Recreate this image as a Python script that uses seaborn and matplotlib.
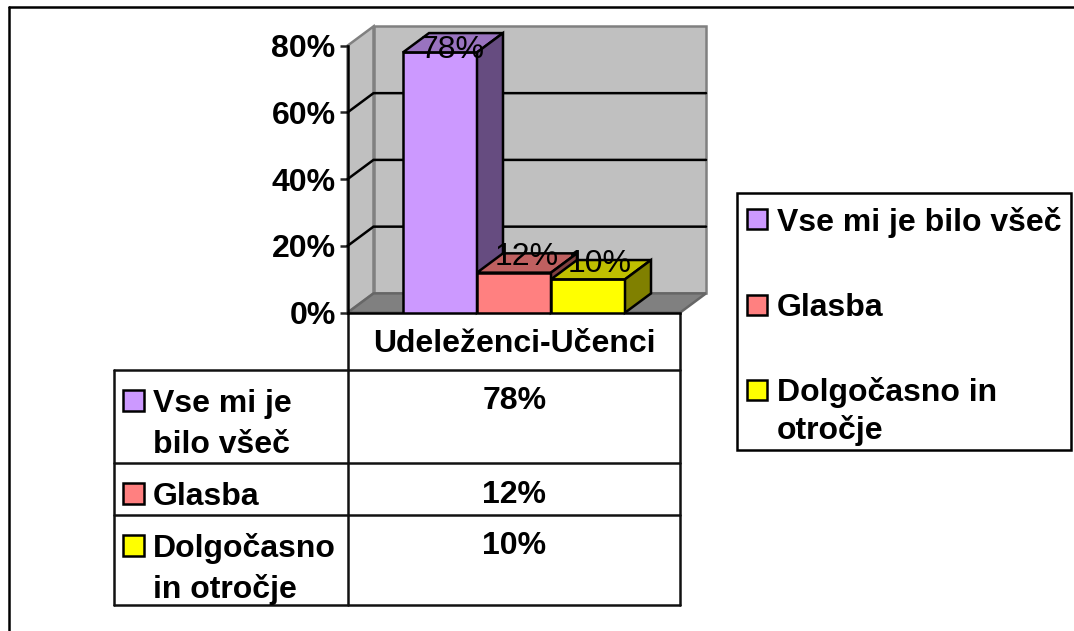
import matplotlib
matplotlib.use("Agg")
import matplotlib.pyplot as plt
from matplotlib.patches import Polygon, Rectangle
import pandas as pd
import seaborn as sns

categories = ["Vse mi je bilo všeč", "Glasba", "Dolgočasno in otročje"]
values = [78, 12, 10]
y_ticks = [0, 20, 40, 60, 80]
group_label = "Udeleženci-Učenci"
table_labels = [["Vse mi je", "bilo všeč"], ["Glasba"], ["Dolgočasno", "in otročje"]]
legend_labels = [["Vse mi je bilo všeč"], ["Glasba"], ["Dolgočasno in", "otročje"]]

front_colors = ["#CC99FF", "#FF8080", "#FFFF00"]
top_colors = ["#9973BF", "#BF6060", "#BFBF00"]
side_colors = ["#664C80", "#804040", "#808000"]

W, H = 1074, 631
BOLD = dict(family="Liberation Sans", weight="bold", color="black")
LW = 1.8 # a bit over 2px at this dpi
FS = 23

sns.set_style("white")
plt.rcParams["font.family"] = ["Liberation Sans", "DejaVu Sans"]

fig = plt.figure(figsize=(W / 100, H / 100), dpi=100)

# page axes in pixels for the frame, data table and legend
page = fig.add_axes([0, 0, 1, 1], zorder=1)
page.set_xlim(0, W)
page.set_ylim(H, 0)
page.axis("off")

# chart axes, front plane of the 3d box
left, right, y0, y80 = 347.5, 680, 312.7, 45.7
bar_px = 74
ax = fig.add_axes([left / W, 1 - y0 / H, (right - left) / W, (y0 - y80) / H], zorder=2)
ax.patch.set_visible(False)

df = pd.DataFrame({"category": categories, "value": values})
sns.barplot(data=df, x="category", y="value", hue="category", palette=front_colors,
            order=categories, hue_order=categories, saturation=1, width=1,
            edgecolor="black", linewidth=LW, legend=False, ax=ax)
bars = sorted(ax.patches, key=lambda p: p.get_x())

xl = (left - 440) / bar_px
xr = (right - 440) / bar_px
ax.set_xlim(xl, xr)
ax.set_ylim(0, 80)
ax.set_xlabel("")
ax.set_ylabel("")
ax.set_xticks([])
ax.set_yticks(y_ticks)
ax.set_yticklabels([f"{t}%" for t in y_ticks], **BOLD, fontsize=FS)
ax.tick_params(axis="y", direction="out", length=5.5, width=LW, left=True, pad=3)
for name, spine in ax.spines.items():
    spine.set_visible(name in ("left", "bottom"))
    spine.set_linewidth(LW)
    spine.set_color("black")

# depth of the box in data units
dx = 26 / bar_px
dy = 19.3 / ((y0 - y80) / 80)

# walls
gray = "#C0C0C0"
edge = "#808080"
ax.add_patch(Polygon([(xl + dx, dy), (xr + dx, dy), (xr + dx, 80 + dy), (xl + dx, 80 + dy)],
                     fc=gray, ec=edge, lw=LW, clip_on=False, zorder=0.5))
ax.add_patch(Polygon([(xl, 0), (xl + dx, dy), (xl + dx, 80 + dy), (xl, 80)],
                     fc=gray, ec=edge, lw=LW, clip_on=False, zorder=0.5))
ax.add_patch(Polygon([(xl, 0), (xr, 0), (xr + dx, dy), (xl + dx, dy)],
                     fc=edge, ec="#666666", lw=LW, clip_on=False, zorder=0.5))
for t in y_ticks[1:-1]:
    ax.plot([xl, xl + dx, xr + dx], [t, t + dy, t + dy], color="black", lw=LW,
            clip_on=False, zorder=0.7, solid_joinstyle="miter")

# bars with their top and side faces, left to right so the later ones overlap
label_shift = [(12, -2), (13, -16), (12, -15)] # px, as placed in the original
for i, bar in enumerate(bars):
    x0, x1, h = bar.get_x(), bar.get_x() + bar.get_width(), bar.get_height()
    z = 3 + i
    bar.set_zorder(z)
    ax.add_patch(Polygon([(x0, h), (x1, h), (x1 + dx, h + dy), (x0 + dx, h + dy)],
                         fc=top_colors[i], ec="black", lw=LW, clip_on=False, zorder=z))
    ax.add_patch(Polygon([(x1, 0), (x1 + dx, dy), (x1 + dx, h + dy), (x1, h)],
                         fc=side_colors[i], ec="black", lw=LW, clip_on=False, zorder=z))
    sx, sy = label_shift[i]
    ax.annotate(f"{values[i]}%", ((x0 + x1) / 2, h), xytext=(sx * 0.72, -sy * 0.72),
                textcoords="offset points", ha="center", va="center",
                fontsize=23, color="black", zorder=10, annotation_clip=False)

# outer frame, only top and left show
page.plot([9, W], [7, 7], color="black", lw=LW)
page.plot([9, 9], [7, H], color="black", lw=LW)

# data table
for y, x_start in [(370, 114), (463, 114), (515, 114), (605, 114)]:
    page.plot([x_start, right], [y, y], color="#111111", lw=LW)
page.plot([114, 114], [370, 605], color="#111111", lw=LW)
page.plot([left, left], [y0, 605], color="#111111", lw=LW)
page.plot([right, right], [y0, 605], color="#111111", lw=LW)

center = (left + right) / 2 + 0.5
page.text(center, 352, group_label, ha="center", va="baseline", fontsize=FS, **BOLD)

table_swatch_y = [390, 483, 535]
table_text_y = [[412, 453], [505], [557, 598]]
table_value_y = [409, 503, 554]
for i in range(len(categories)):
    page.add_patch(Rectangle((123, table_swatch_y[i]), 21, 20.5, fc=front_colors[i], ec="black", lw=LW))
    for line, y in zip(table_labels[i], table_text_y[i]):
        page.text(153, y, line, ha="left", va="baseline", fontsize=FS, **BOLD)
    page.text(center, table_value_y[i], f"{values[i]}%", ha="center", va="baseline", fontsize=FS, **BOLD)

# legend box
page.add_patch(Rectangle((737, 193), 334, 257, fc="white", ec="black", lw=LW))
legend_swatch_y = [209, 295, 380]
legend_text_y = [[231], [316], [401, 439]]
for i in range(len(categories)):
    page.add_patch(Rectangle((747, legend_swatch_y[i]), 20, 20, fc=front_colors[i], ec="black", lw=LW))
    for line, y in zip(legend_labels[i], legend_text_y[i]):
        page.text(777, y, line, ha="left", va="baseline", fontsize=FS, **BOLD)

fig.savefig("out.png", dpi=100, facecolor="white")
